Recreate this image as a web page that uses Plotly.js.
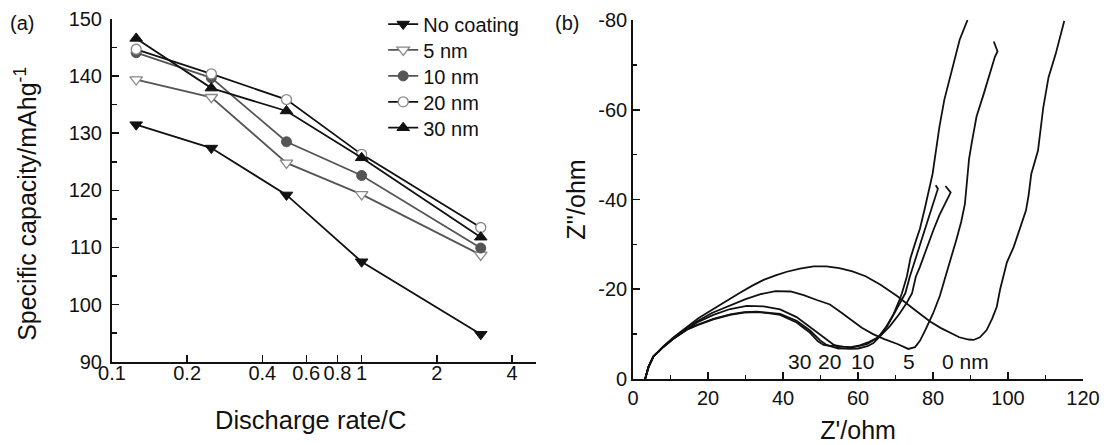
<!DOCTYPE html>
<html>
<head>
<meta charset="utf-8">
<script src="https://cdn.plot.ly/plotly-3.0.1.min.js"></script>
<style>html,body{margin:0;padding:0;background:#fff;}#chart{width:1106px;height:445px;}</style>
</head>
<body>
<div id="chart"></div>
<script>
// ---- Panel (a): rate capability ----
const rates = [0.125, 0.25, 0.5, 1, 3];
const seriesNames = ['No coating', '5 nm', '10 nm', '20 nm', '30 nm'];
const capNoCoating = [131.5, 127.4, 119.2, 107.5, 94.8];
const cap5nm = [139.4, 136.3, 124.8, 119.3, 108.7];
const cap10nm = [144.1, 139.7, 128.5, 122.6, 109.9];
const cap20nm = [144.7, 140.4, 135.9, 126.3, 113.5];
const cap30nm = [146.6, 137.9, 133.9, 125.7, 111.8];
const rateTickVals = [0.1, 0.2, 0.4, 0.6, 0.8, 1, 2, 4];
const rateTickText = ['0.1', '0.2', '0.4', '0.6', '0.8', '1', '2', '4'];

// ---- Panel (b): Nyquist plots ----
const re0 = [3.2, 3.6, 4.1, 5.4, 8.1, 10.8, 14.3, 17.5, 21.4, 25.0, 28.5, 31.8, 34.8, 38.0, 41.0, 44.5, 48.1, 51.5, 55.0, 58.5, 62.0, 66.0, 70.4, 75.0, 79.2, 82.0, 84.5, 87.0, 89.5, 90.8, 92.5, 94.3, 95.8, 97.0, 97.9, 99.7, 101.5, 103.4, 104.8, 105.5, 106.2, 108.0, 109.4, 110.8, 112.7, 115.0];
const im0 = [0, -1.5, -2.7, -5.0, -7.3, -9.3, -11.5, -13.6, -15.6, -17.5, -19.2, -20.8, -22.1, -23.1, -23.9, -24.6, -25.1, -25.1, -24.7, -24.0, -22.9, -21.0, -18.5, -15.5, -12.8, -11.4, -10.3, -9.3, -8.8, -8.7, -9.3, -10.9, -13.5, -16.1, -20.0, -26.0, -29.4, -33.9, -37.6, -41.0, -45.7, -50.9, -60.5, -67.2, -72.4, -79.8];
const re5 = [3.2, 3.6, 4.1, 5.4, 8.1, 10.8, 14.3, 17.0, 21.0, 25.9, 30.0, 34.0, 38.0, 42.0, 45.5, 49.0, 52.5, 55.5, 57.8, 61.0, 64.0, 67.0, 70.5, 73.4, 75.2, 76.5, 78.0, 80.0, 81.8, 83.3, 84.8, 86.2, 87.5, 88.5, 89.1, 89.6, 90.4, 91.6, 93.4, 95.2, 96.5, 97.2, 96.2];
const im5 = [0, -1.5, -2.7, -5.0, -7.2, -9.1, -11.3, -12.8, -14.7, -16.4, -17.8, -18.9, -19.6, -19.5, -18.7, -17.6, -16.6, -14.8, -13.3, -11.4, -10.0, -8.9, -7.8, -6.7, -7.1, -8.5, -11.0, -14.6, -18.5, -22.5, -27.0, -31.0, -35.0, -39.0, -44.0, -49.0, -53.0, -58.5, -63.2, -68.0, -71.8, -73.0, -75.2];
const re10 = [3.2, 3.6, 4.1, 5.4, 8.1, 10.8, 14.3, 17.5, 21.4, 25.9, 30.3, 34.8, 39.2, 43.6, 46.0, 48.1, 50.8, 53.4, 55.2, 57.6, 60.0, 62.5, 64.1, 65.8, 68.5, 71.0, 73.0, 74.4, 75.4, 76.5, 78.2, 80.1, 81.7, 83.2, 84.7, 83.3];
const im10 = [0, -1.5, -2.7, -5.0, -7.2, -9.0, -11.1, -12.8, -14.3, -15.6, -16.3, -16.2, -15.5, -13.8, -12.3, -11.0, -9.2, -7.7, -6.9, -6.7, -6.8, -7.3, -8.0, -9.5, -11.8, -14.5, -17.0, -19.1, -22.8, -25.0, -29.0, -33.2, -36.5, -39.2, -41.6, -43.0];
const re20 = [3.2, 3.6, 4.1, 5.4, 8.1, 10.8, 14.3, 17.5, 21.4, 25.9, 29.6, 33.0, 36.0, 39.2, 43.6, 47.2, 49.9, 51.6, 53.0, 54.8, 57.0, 59.5, 62.5, 65.4, 67.8, 69.8, 71.5, 72.6, 73.8, 75.2, 76.5, 77.9, 79.2, 80.5, 81.3, 80.7];
const im20 = [0, -1.5, -2.7, -5.0, -7.2, -9.0, -11.0, -12.2, -13.4, -14.4, -14.9, -15.0, -14.8, -14.5, -13.0, -10.8, -8.6, -7.6, -7.2, -6.8, -6.9, -7.2, -7.8, -9.3, -11.8, -14.8, -17.5, -19.1, -22.8, -26.5, -30.0, -33.2, -37.0, -40.6, -42.4, -43.2];
const re30 = [3.2, 3.6, 4.1, 5.4, 8.1, 10.8, 14.3, 17.5, 21.4, 25.9, 29.6, 33.0, 36.0, 39.2, 43.6, 47.2, 49.3, 50.8, 52.5, 54.0, 56.0, 58.0, 60.5, 63.0, 65.4, 67.4, 69.5, 71.0, 71.7, 73.0, 74.0, 75.5, 76.5, 77.8, 78.8, 79.9, 80.8, 81.7, 83.0, 84.4, 85.7, 87.1, 89.2];
const im30 = [0, -1.5, -2.7, -5.0, -7.2, -9.0, -11.0, -12.1, -13.3, -14.3, -14.8, -14.9, -14.7, -14.3, -12.6, -10.3, -8.4, -7.6, -7.4, -7.5, -7.2, -7.1, -7.5, -8.3, -9.3, -11.5, -14.5, -17.5, -19.1, -22.8, -27.0, -31.0, -33.5, -38.0, -42.0, -45.8, -51.0, -56.2, -62.2, -66.6, -71.1, -75.6, -80.0];
const eisLabels = ['30', '20', '10', '5', '0 nm'];
const eisLabelRe = [44.4, 52.4, 61.1, 73.5, 88.6];
const eisLabelIm = -3.9;
const zReTickVals = [0, 20, 40, 60, 80, 100, 120];
const zImTickVals = [0, -20, -40, -60, -80];
const zImTickText = ['0', '-20', '-40', '-60', '-80'];

const FONT = 'Arial, "Liberation Sans", Helvetica, sans-serif';
const BLACK = '#111';
const GREY = '#555';
const LIGHT = '#888';

const capSeries = [capNoCoating, cap5nm, cap10nm, cap20nm, cap30nm];
const lineColors = [BLACK, GREY, GREY, BLACK, BLACK];
const markerDefs = [
  {symbol: 'triangle-down', size: 11, color: BLACK, line: {color: BLACK, width: 1}},
  {symbol: 'triangle-down', size: 11, color: '#fff', line: {color: LIGHT, width: 1.3}},
  {symbol: 'circle', size: 10, color: GREY, line: {color: GREY, width: 1}},
  {symbol: 'circle', size: 10, color: '#fff', line: {color: LIGHT, width: 1.3}},
  {symbol: 'triangle-up', size: 11, color: BLACK, line: {color: BLACK, width: 1}}
];
const legendIds = ['legend', 'legend2', 'legend3', 'legend4', 'legend5'];
const legendRowY = [0.986, 0.914, 0.842, 0.770, 0.698];

const traces = [];
capSeries.forEach((vals, i) => {
  traces.push({
    type: 'scatter', mode: 'lines+markers', name: seriesNames[i],
    x: rates, y: vals, xaxis: 'x', yaxis: 'y', legend: legendIds[i],
    line: {color: lineColors[i], width: 1.8},
    marker: markerDefs[i]
  });
});

const eisCurves = [[re0, im0], [re5, im5], [re10, im10], [re20, im20], [re30, im30]];
eisCurves.forEach((c) => {
  traces.push({
    type: 'scatter', mode: 'lines', x: c[0], y: c[1], xaxis: 'x2', yaxis: 'y2',
    showlegend: false, line: {color: BLACK, width: 1.8}, hoverinfo: 'skip'
  });
});

const annotations = [
  {text: '(a)', xref: 'paper', yref: 'paper', x: -0.0923, y: 0.989, xanchor: 'center', yanchor: 'middle', showarrow: false, font: {size: 20, family: FONT, color: BLACK}},
  {text: '(b)', xref: 'paper', yref: 'paper', x: 0.4688, y: 0.989, xanchor: 'center', yanchor: 'middle', showarrow: false, font: {size: 20, family: FONT, color: BLACK}},
  {text: 'Specific capacity/mAhg<sup>-1</sup>', xref: 'paper', yref: 'paper', x: -0.0882, y: 0.4875, textangle: -90,
    xanchor: 'center', yanchor: 'middle', showarrow: false, font: {size: 25, family: FONT, color: BLACK}},
  {text: 'Discharge rate/C', xref: 'paper', yref: 'paper', x: 0.2042, y: -0.115,
    xanchor: 'center', yanchor: 'middle', showarrow: false, font: {size: 25.5, family: FONT, color: BLACK}}
];
eisLabels.forEach((t, i) => {
  annotations.push({text: t, xref: 'x2', yref: 'y2', x: eisLabelRe[i], y: eisLabelIm, xanchor: 'center', yanchor: 'middle', showarrow: false,
    font: {size: 21, family: FONT, color: BLACK}});
});

const axisCommon = {
  showline: true, linewidth: 2, linecolor: BLACK, showgrid: false, zeroline: false,
  ticks: 'inside', ticklen: 7, tickwidth: 1.5, tickcolor: BLACK, tickangle: 0,
  tickfont: {size: 20, family: FONT, color: BLACK}
};

const layout = {
  width: 1106, height: 445,
  margin: {l: 112, r: 23, t: 19, b: 66, pad: 0, autoexpand: false},
  paper_bgcolor: '#fff', plot_bgcolor: '#fff',
  font: {family: FONT, color: BLACK},
  showlegend: true,
  annotations: annotations,
  xaxis: Object.assign({}, axisCommon, {
    type: 'log', range: [-1, Math.log10(5)], domain: [0, 0.4368],
    tickmode: 'array', tickvals: rateTickVals, ticktext: rateTickText,
    ticklabelstandoff: -8, anchor: 'y'
  }),
  yaxis: Object.assign({}, axisCommon, {
    range: [90, 150], domain: [0.048, 1], tick0: 90, dtick: 10, ticklabelstandoff: 4,
    minor: {dtick: 5, ticks: 'inside', ticklen: 5, tickwidth: 1.5, tickcolor: BLACK, showgrid: false},
    anchor: 'x'
  }),
  xaxis2: Object.assign({}, axisCommon, {
    range: [0, 120], domain: [0.5367, 1], tickmode: 'array', tickvals: zReTickVals,
    minor: {dtick: 10, ticks: 'inside', ticklen: 4, tickwidth: 1.5, tickcolor: BLACK, showgrid: false},
    title: {text: "Z'/ohm", font: {size: 25, family: FONT, color: BLACK}, standoff: 13},
    anchor: 'y2'
  }),
  yaxis2: Object.assign({}, axisCommon, {
    range: [0, -80], domain: [0, 0.9972], tickmode: 'array', tickvals: zImTickVals, ticktext: zImTickText,
    minor: {dtick: 10, ticks: 'inside', ticklen: 4, tickwidth: 1.5, tickcolor: BLACK, showgrid: false},
    title: {text: "Z''/ohm", font: {size: 25, family: FONT, color: BLACK}, standoff: 5},
    anchor: 'x2'
  })
};
legendIds.forEach((id, i) => {
  layout[id] = {x: 0.2793, y: legendRowY[i], xanchor: 'left', yanchor: 'middle', bgcolor: 'rgba(0,0,0,0)',
    font: {size: 20, family: FONT, color: BLACK}, itemwidth: 30};
});

Plotly.newPlot('chart', traces, layout, {staticPlot: true, displayModeBar: false});
</script>
</body>
</html>
